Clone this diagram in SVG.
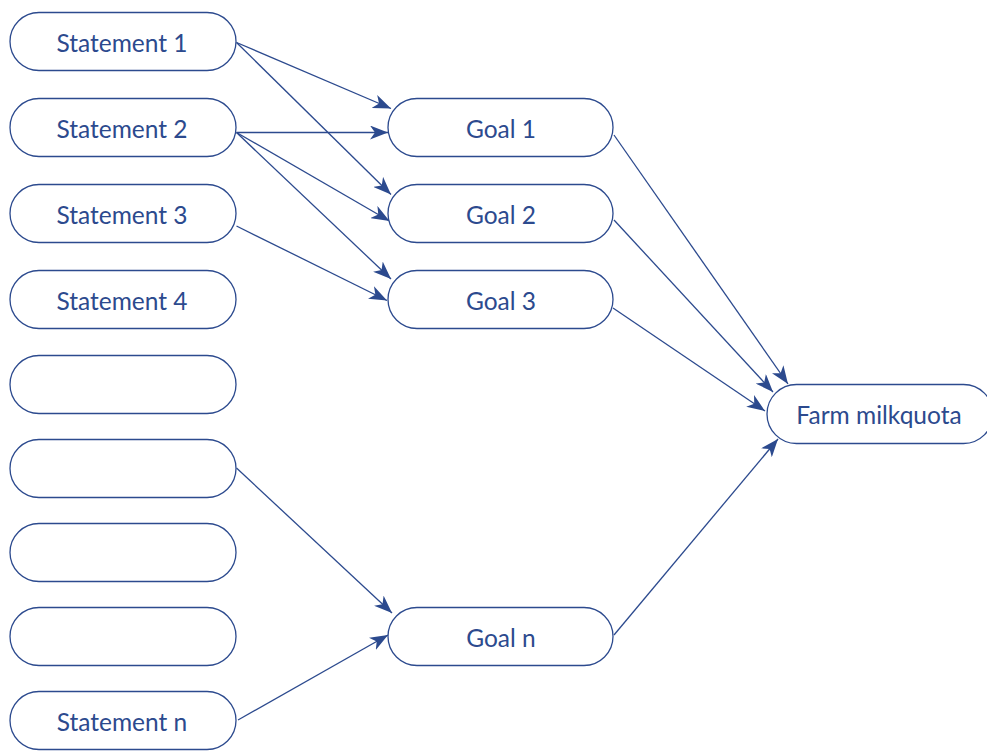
<svg xmlns="http://www.w3.org/2000/svg" width="987" height="751" viewBox="0 0 987 751">
<style>
.box{fill:#fff;stroke:#2c4a8e;stroke-width:1.3}
.lbl{font-family:Lato,"Open Sans","Liberation Sans",sans-serif;font-size:24.5px;fill:#2c4a8e;text-anchor:middle}
.c{fill:none;stroke:#2c4a8e;stroke-width:1.3;marker-end:url(#ah)}
</style>
<defs>
<marker id="ah" markerUnits="userSpaceOnUse" markerWidth="20" markerHeight="14" refX="18" refY="7" orient="auto" viewBox="0 0 20 14">
<path d="M0,0 L18,7 L0,14 L5,7 Z" fill="#2c4a8e"/>
</marker>
</defs>
<rect width="987" height="751" fill="#fff"/>
<g id="connectors">
<line class="c" x1="236.5" y1="42.5" x2="391" y2="108.5"/>
<line class="c" x1="236.5" y1="42.5" x2="391" y2="194.5"/>
<line class="c" x1="236.5" y1="132.5" x2="388" y2="132.5"/>
<line class="c" x1="236.5" y1="132.5" x2="389.5" y2="221"/>
<line class="c" x1="236.5" y1="132.5" x2="391" y2="279"/>
<line class="c" x1="236.5" y1="226" x2="387" y2="300.5"/>
<line class="c" x1="236.5" y1="468" x2="392" y2="613"/>
<line class="c" x1="238" y1="720" x2="388" y2="635"/>
<line class="c" x1="614" y1="135" x2="788" y2="384"/>
<line class="c" x1="614" y1="220" x2="773" y2="392"/>
<line class="c" x1="613" y1="308" x2="765" y2="411"/>
<line class="c" x1="614" y1="635" x2="778" y2="439"/>
</g>
<g id="s1"><rect class="box" x="10" y="12.5" width="226" height="58" rx="29"/><text class="lbl" x="122" y="51.5">Statement 1</text></g>
<g id="s2"><rect class="box" x="10" y="98.5" width="226" height="58" rx="29"/><text class="lbl" x="122" y="137.5">Statement 2</text></g>
<g id="s3"><rect class="box" x="10" y="184.5" width="226" height="58" rx="29"/><text class="lbl" x="122" y="223.5">Statement 3</text></g>
<g id="s4"><rect class="box" x="10" y="270.5" width="226" height="58" rx="29"/><text class="lbl" x="122" y="309.5">Statement 4</text></g>
<g id="s5"><rect class="box" x="10" y="355.5" width="226" height="58" rx="29"/></g>
<g id="s6"><rect class="box" x="10" y="439.5" width="226" height="58" rx="29"/></g>
<g id="s7"><rect class="box" x="10" y="523.5" width="226" height="58" rx="29"/></g>
<g id="s8"><rect class="box" x="10" y="607.5" width="226" height="58" rx="29"/></g>
<g id="sn"><rect class="box" x="10" y="691.5" width="226" height="58" rx="29"/><text class="lbl" x="122" y="730.5">Statement n</text></g>
<g id="g1"><rect class="box" x="388" y="98.5" width="225" height="58" rx="29"/><text class="lbl" x="501" y="137.5">Goal 1</text></g>
<g id="g2"><rect class="box" x="388" y="184.5" width="225" height="58" rx="29"/><text class="lbl" x="501" y="223.5">Goal 2</text></g>
<g id="g3"><rect class="box" x="388" y="270.5" width="225" height="58" rx="29"/><text class="lbl" x="501" y="309.5">Goal 3</text></g>
<g id="gn"><rect class="box" x="388" y="607.5" width="225" height="58" rx="29"/><text class="lbl" x="501" y="646.5">Goal n</text></g>
<g id="farm"><rect class="box" x="767" y="384.5" width="226" height="59" rx="29.5"/><text class="lbl" x="879" y="424">Farm milkquota</text></g>
</svg>
